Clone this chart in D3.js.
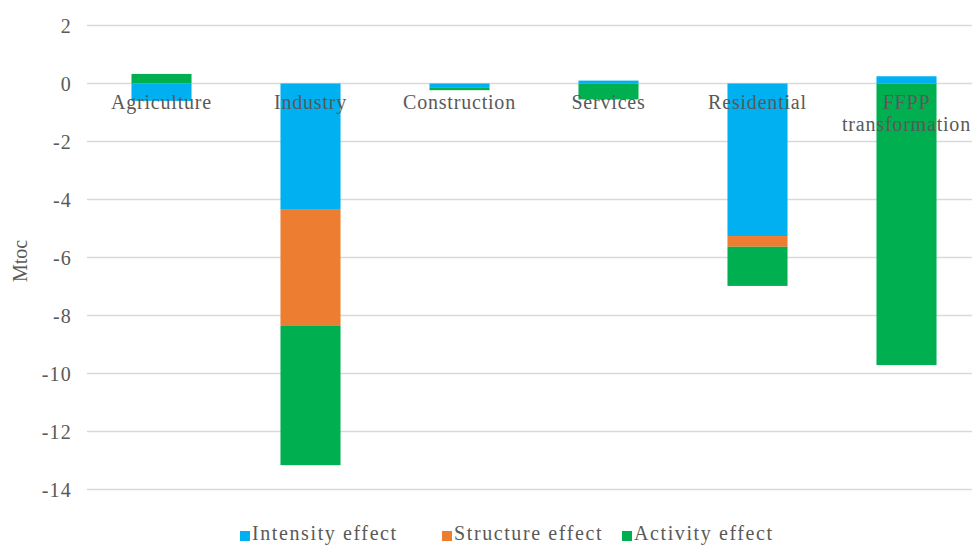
<!DOCTYPE html>
<html lang="en">
<head>
<meta charset="utf-8">
<title>Decomposition by sector</title>
<style>
  body { margin: 0; background: #fff; }
  svg { display: block; overflow: hidden; }
</style>
</head>
<body>
<div id="chart"></div>
<script src="https://d3js.org/d3.v7.min.js"></script>
<script>
  // data
  const sectors = ["Agriculture", "Industry", "Construction", "Services", "Residential", "FFPP transformation"];
  const intensity = [-0.6, -4.33, -0.15, 0.1, -5.26, 0.25];
  const structure = [0.0, -4.03, 0.0, 0.0, -0.37, 0.0];
  const activity = [0.33, -4.8, -0.08, -0.55, -1.35, -9.71];
  const seriesNames = ["Intensity effect", "Structure effect", "Activity effect"];
  const yTicks = [2, 0, -2, -4, -6, -8, -10, -12, -14];

  const colors = ["#00B0F0", "#ED7D31", "#00B050"];
  const font = "Liberation Serif, serif";
  const textColor = "#595959";

  const width = 972, height = 545;
  const svg = d3.select("#chart").append("svg")
      .attr("width", width)
      .attr("height", height);

  const rows = sectors.map((s, i) => ({
    sector: s,
    "Intensity effect": intensity[i],
    "Structure effect": structure[i],
    "Activity effect": activity[i]
  }));

  const xScale = d3.scaleBand()
      .domain(sectors)
      .range([87, 981])
      .paddingInner(0.597)
      .paddingOuter(0.2985);

  const yScale = d3.scaleLinear()
      .domain([-14, 2])
      .range([489.5, 25.5]);

  // gridlines
  svg.append("g")
      .selectAll("line")
      .data(yTicks)
      .join("line")
      .attr("x1", 87)
      .attr("x2", width)
      .attr("y1", d => yScale(d))
      .attr("y2", d => yScale(d))
      .attr("stroke", "#D9D9D9")
      .attr("stroke-width", 1.3);

  // y axis labels (plain hyphen for minus, like the original)
  const leftAxis = d3.axisLeft(yScale)
      .tickValues(yTicks)
      .tickFormat(d => String(d))
      .tickSize(0)
      .tickPadding(0);
  const yAxis = svg.append("g")
      .attr("transform", "translate(72,0)")
      .call(leftAxis);
  yAxis.select(".domain").remove();
  yAxis.attr("font-family", font);
  yAxis.selectAll(".tick text")
      .attr("font-size", 20)
      .attr("fill", textColor)
      .attr("letter-spacing", 1.2)
      .attr("dy", "0.33em");

  // stacked bars
  const stacked = d3.stack()
      .keys(seriesNames)
      .offset(d3.stackOffsetDiverging)(rows);

  svg.append("g")
      .selectAll("g")
      .data(stacked)
      .join("g")
      .attr("fill", (d, i) => colors[i])
      .selectAll("rect")
      .data(d => d)
      .join("rect")
      .attr("x", d => xScale(d.data.sector))
      .attr("width", xScale.bandwidth())
      .attr("y", d => yScale(Math.max(d[0], d[1])))
      .attr("height", d => Math.abs(yScale(d[0]) - yScale(d[1])));

  // category labels
  const labels = svg.append("g")
      .selectAll("text")
      .data(sectors)
      .join("text")
      .attr("text-anchor", "middle")
      .attr("font-family", font)
      .attr("font-size", 20)
      .attr("letter-spacing", 0.8)
      .attr("fill", textColor)
      .attr("x", d => xScale(d) + xScale.bandwidth() / 2)
      .attr("y", 109);
  labels.each(function(d) {
    const words = d === "FFPP transformation" ? ["FFPP", "transformation"] : [d];
    const t = d3.select(this);
    words.forEach((w, i) => {
      t.append("tspan")
        .attr("x", xScale(d) + xScale.bandwidth() / 2)
        .attr("dy", i === 0 ? 0 : 22)
        .text(w);
    });
  });

  // y axis title
  svg.append("text")
      .attr("text-anchor", "middle")
      .attr("font-family", font)
      .attr("font-size", 20)
      .attr("fill", textColor)
      .attr("transform", "translate(27,261) rotate(-90)")
      .text("Mtoc");

  // legend
  const legendX = [240, 442, 622];
  const legend = svg.append("g")
      .selectAll("g")
      .data(seriesNames)
      .join("g")
      .attr("transform", (d, i) => "translate(" + legendX[i] + ",535)");
  legend.append("rect")
      .attr("x", 0)
      .attr("y", -4)
      .attr("width", 10)
      .attr("height", 10)
      .attr("fill", (d, i) => colors[i]);
  legend.append("text")
      .attr("x", 12)
      .attr("y", 5)
      .attr("font-family", font)
      .attr("font-size", 20)
      .attr("letter-spacing", 1.6)
      .attr("fill", textColor)
      .text(d => d);
</script>
</body>
</html>
